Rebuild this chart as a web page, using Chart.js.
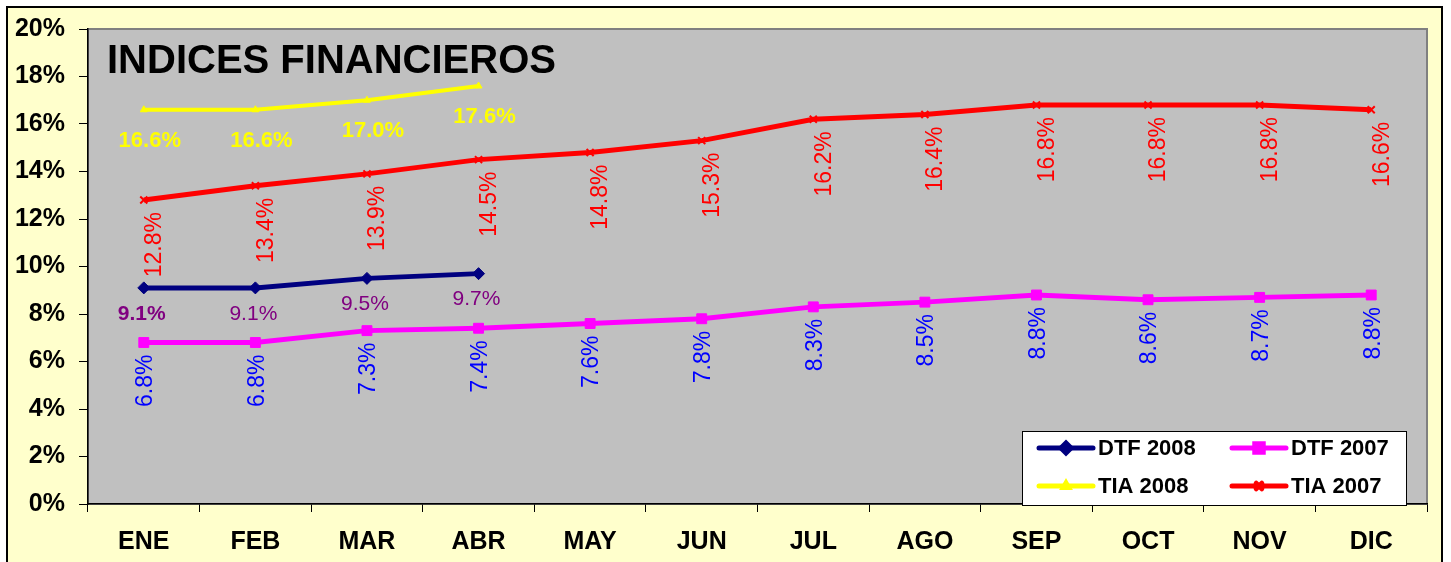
<!DOCTYPE html>
<html>
<head>
<meta charset="utf-8">
<script src="https://cdn.jsdelivr.net/npm/chart.js@4.4.1/dist/chart.umd.min.js"></script>
<style>
html, body { margin: 0; padding: 0; background: #ffffff; }
</style>
</head>
<body>
<canvas id="indices_chart" width="1451" height="562"></canvas>
<script>
// datos
var meses = ["ENE", "FEB", "MAR", "ABR", "MAY", "JUN", "JUL", "AGO", "SEP", "OCT", "NOV", "DIC"];
var dtf_2008 = [9.1, 9.1, 9.5, 9.7];
var dtf_2007 = [6.8, 6.8, 7.3, 7.4, 7.6, 7.8, 8.3, 8.5, 8.8, 8.6, 8.7, 8.8];
var tia_2008 = [16.6, 16.6, 17.0, 17.6];
var tia_2007 = [12.8, 13.4, 13.9, 14.5, 14.8, 15.3, 16.2, 16.4, 16.8, 16.8, 16.8, 16.6];
var y_ticks = [0, 2, 4, 6, 8, 10, 12, 14, 16, 18, 20];
var titulo = "INDICES FINANCIEROS";

var FAMILIA = "'Liberation Sans', Arial, sans-serif";
Chart.defaults.font.family = FAMILIA;

// estilo de las etiquetas de cada serie (mismo orden que datasets)
var etiquetas = [
  { color: "#800080", font: "21px " + FAMILIA, rot: false, dx: -2, dy: 26, boldFirst: true },
  { color: "#0000ff", font: "23px " + FAMILIA, rot: true, dx: 2, dy: 12 },
  { color: "#ffff00", font: "bold 22px " + FAMILIA, rot: false, dx: 6, dy: 31 },
  { color: "#ff0000", font: "23px " + FAMILIA, rot: true, dx: 11, dy: 12 }
];

var fondo = {
  id: "fondo",
  beforeDraw: function(chart) {
    var ctx = chart.ctx, a = chart.chartArea;
    ctx.save();
    ctx.fillStyle = "#ffffff";
    ctx.fillRect(0, 0, chart.width, chart.height);
    ctx.fillStyle = "#ffffcc";
    ctx.fillRect(7, 7, 1435, 560);
    ctx.strokeStyle = "#000000";
    ctx.lineWidth = 2;
    ctx.strokeRect(7, 7, 1435, 600);
    ctx.fillStyle = "#c0c0c0";
    ctx.fillRect(a.left, a.top, a.right - a.left, a.bottom - a.top);
    ctx.strokeStyle = "#808080";
    ctx.lineWidth = 2;
    ctx.strokeRect(a.left, a.top, a.right - a.left, a.bottom - a.top);
    ctx.restore();
  }
};

var textos = {
  id: "textos",
  afterDatasetsDraw: function(chart) {
    var ctx = chart.ctx;
    ctx.save();
    chart.data.datasets.forEach(function(ds, i) {
      var meta = chart.getDatasetMeta(i), e = etiquetas[i];
      meta.data.forEach(function(pt, j) {
        var txt = ds.data[j].toFixed(1) + "%";
        ctx.fillStyle = e.color;
        ctx.font = (e.boldFirst && j == 0) ? "bold " + e.font : e.font;
        if (e.rot) {
          ctx.save();
          ctx.translate(pt.x + e.dx, pt.y + e.dy);
          ctx.rotate(-Math.PI / 2);
          ctx.textAlign = "right";
          ctx.textBaseline = "middle";
          ctx.fillText(txt, 0, 0);
          ctx.restore();
        } else {
          ctx.textAlign = "center";
          ctx.textBaseline = "middle";
          ctx.fillText(txt, pt.x + e.dx, pt.y + e.dy);
        }
      });
    });
    // titulo dentro del area
    ctx.fillStyle = "#000000";
    ctx.font = "bold 40px " + FAMILIA;
    ctx.textAlign = "left";
    ctx.textBaseline = "alphabetic";
    ctx.fillText(titulo, 107, 73);
    ctx.restore();
  },
  afterDraw: function(chart) {
    // leyenda
    var ctx = chart.ctx;
    ctx.save();
    ctx.fillStyle = "#ffffff";
    ctx.fillRect(1022, 431, 385, 75);
    ctx.strokeStyle = "#000000";
    ctx.lineWidth = 1;
    ctx.strokeRect(1022.5, 431.5, 384, 74);
    var pos = [[1039, 448], [1232, 448], [1039, 486], [1232, 486]];
    chart.data.datasets.forEach(function(ds, i) {
      var x = pos[i][0], y = pos[i][1];
      ctx.strokeStyle = ds.borderColor;
      ctx.lineWidth = 5;
      ctx.lineCap = "round";
      ctx.beginPath();
      ctx.moveTo(x, y);
      ctx.lineTo(x + 54, y);
      ctx.stroke();
      ctx.fillStyle = ds.pointBackgroundColor;
      ctx.strokeStyle = ds.pointBorderColor;
      Chart.helpers.drawPoint(ctx, {
        pointStyle: ds.pointStyle, radius: ds.pointRadius - 1, rotation: 0, borderWidth: ds.pointBorderWidth
      }, x + 27, y);
      ctx.fillStyle = "#000000";
      ctx.font = "bold 22px " + FAMILIA;
      ctx.textAlign = "left";
      ctx.textBaseline = "middle";
      ctx.fillText(ds.label, x + 59, y + 1);
    });
    ctx.restore();
  }
};

var config = {
  type: "line",
  data: {
    labels: meses,
    datasets: [{
      label: "DTF 2008",
      data: dtf_2008,
      borderColor: "#000080",
      borderWidth: 5,
      pointStyle: "rectRot",
      pointRadius: 6,
      pointBackgroundColor: "#000080",
      pointBorderColor: "#000080",
      pointBorderWidth: 1,
      tension: 0
    }, {
      label: "DTF 2007",
      data: dtf_2007,
      borderColor: "#ff00ff",
      borderWidth: 5,
      pointStyle: "rect",
      pointRadius: 7,
      pointBackgroundColor: "#ff00ff",
      pointBorderColor: "#ff00ff",
      pointBorderWidth: 1,
      tension: 0
    }, {
      label: "TIA 2008",
      data: tia_2008,
      borderColor: "#ffff00",
      borderWidth: 4,
      pointStyle: "triangle",
      pointRadius: 4,
      pointBackgroundColor: "#ffff00",
      pointBorderColor: "#ffff00",
      pointBorderWidth: 1,
      tension: 0
    }, {
      label: "TIA 2007",
      data: tia_2007,
      borderColor: "#ff0000",
      borderWidth: 5,
      pointStyle: "crossRot",
      pointRadius: 5,
      pointBackgroundColor: "#ff0000",
      pointBorderColor: "#ff0000",
      pointBorderWidth: 2,
      tension: 0
    }]
  },
  options: {
    responsive: false,
    animation: false,
    devicePixelRatio: 1,
    layout: { padding: { top: 29, right: 24, left: 0, bottom: 0 } },
    plugins: {
      legend: { display: false },
      title: { display: false },
      tooltip: { enabled: false }
    },
    scales: {
      x: {
        offset: true,
        grid: { offset: true, drawOnChartArea: false, tickLength: 8, color: "#000000", lineWidth: 1 },
        border: { color: "#000000", width: 1.5 },
        ticks: {
          color: "#000000",
          padding: 15,
          maxRotation: 0,
          font: { size: 25, weight: "bold", family: FAMILIA }
        },
        afterFit: function(scale) { scale.height = 58; }
      },
      y: {
        min: 0,
        max: 20,
        afterBuildTicks: function(scale) {
          scale.ticks = y_ticks.map(function(v) { return { value: v }; });
        },
        grid: { drawOnChartArea: false, tickLength: 9, color: "#000000", lineWidth: 1 },
        border: { color: "#000000", width: 1.5 },
        ticks: {
          color: "#000000",
          padding: 14,
          font: { size: 25, weight: "bold", family: FAMILIA },
          callback: function(v) { return v + "%"; }
        },
        afterFit: function(scale) { scale.width = 88; }
      }
    }
  },
  plugins: [fondo, textos]
};

var indices_chart = new Chart(document.getElementById("indices_chart"), config);
</script>
</body>
</html>
